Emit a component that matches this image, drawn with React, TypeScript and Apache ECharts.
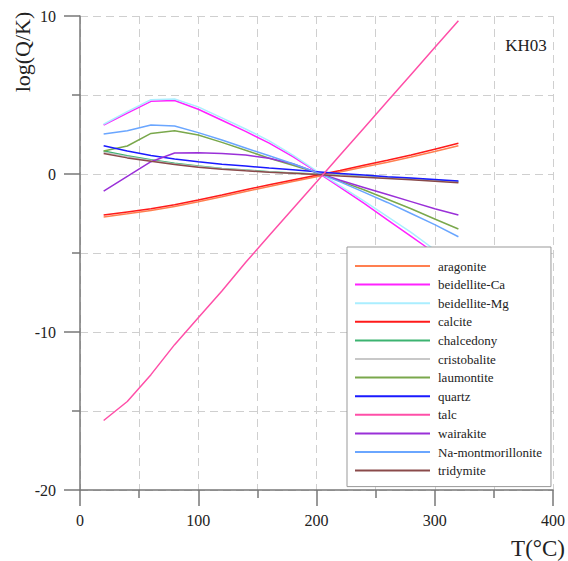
import React, { useEffect, useRef } from "react";
import * as echarts from "echarts";

const temps = [20, 40, 60, 80, 100, 120, 140, 160, 180, 200, 220, 240, 260, 280, 300, 320];

const aragonite = [-2.72, -2.52, -2.31, -2.06, -1.76, -1.44, -1.11, -0.79, -0.48, -0.18, 0.12, 0.44, 0.75, 1.07, 1.42, 1.79];
const beidelliteCa = [3.1, 3.85, 4.6, 4.65, 4.1, 3.4, 2.7, 1.95, 1.1, 0.15, -0.85, -1.85, -2.9, -3.95, -5.0, -6.1];
const beidelliteMg = [3.15, 3.95, 4.7, 4.75, 4.25, 3.55, 2.85, 2.1, 1.2, 0.2, -0.75, -1.7, -2.7, -3.7, -4.8, -5.8];
const calcite = [-2.6, -2.4, -2.2, -1.95, -1.65, -1.33, -1.0, -0.68, -0.38, -0.08, 0.22, 0.55, 0.87, 1.2, 1.57, 1.94];
const chalcedony = [1.45, 1.15, 0.9, 0.68, 0.5, 0.35, 0.25, 0.15, 0.07, 0.0, -0.08, -0.16, -0.24, -0.32, -0.4, -0.48];
const cristobalite = [1.38, 1.09, 0.85, 0.64, 0.47, 0.33, 0.23, 0.13, 0.05, -0.02, -0.1, -0.18, -0.26, -0.34, -0.43, -0.51];
const laumontite = [1.46, 1.77, 2.57, 2.74, 2.47, 2.0, 1.5, 1.0, 0.55, 0.1, -0.45, -1.0, -1.6, -2.2, -2.85, -3.48];
const quartz = [1.79, 1.45, 1.17, 0.95, 0.78, 0.62, 0.5, 0.38, 0.27, 0.15, 0.03, -0.07, -0.17, -0.26, -0.35, -0.44];
const talc = [-15.6, -14.4, -12.7, -10.8, -9.1, -7.4, -5.6, -3.9, -2.2, -0.5, 1.2, 2.9, 4.6, 6.3, 8.0, 9.7];
const wairakite = [-1.08, -0.15, 0.78, 1.33, 1.35, 1.3, 1.2, 1.0, 0.65, 0.1, -0.4, -0.85, -1.3, -1.75, -2.2, -2.6];
const naMontmorillonite = [2.53, 2.74, 3.1, 3.04, 2.62, 2.15, 1.65, 1.15, 0.65, 0.1, -0.5, -1.15, -1.8, -2.5, -3.2, -3.97];
const tridymite = [1.3, 1.02, 0.8, 0.6, 0.43, 0.3, 0.2, 0.11, 0.04, -0.03, -0.12, -0.2, -0.28, -0.37, -0.46, -0.55];

const seriesNames = [
  "aragonite", "beidellite-Ca", "beidellite-Mg", "calcite", "chalcedony", "cristobalite",
  "laumontite", "quartz", "talc", "wairakite", "Na-montmorillonite", "tridymite",
];
const seriesValues = [
  aragonite, beidelliteCa, beidelliteMg, calcite, chalcedony, cristobalite,
  laumontite, quartz, talc, wairakite, naMontmorillonite, tridymite,
];
const seriesColors = [
  "#ff7f50", "#ff22ff", "#aaeeff", "#ff1a1a", "#3cb371", "#c8c8c8",
  "#7aa84c", "#1a1aff", "#ff4fa8", "#9a30d8", "#6aa6ff", "#8a4a4a",
];

const xTicks = [0, 100, 200, 300, 400];
const yTicks = [-20, -10, 0, 10];

const FONT = "Liberation Serif, Times New Roman, serif";

export default function App() {
  const ref = useRef<HTMLDivElement>(null);
  useEffect(() => {
    const chart = echarts.init(ref.current!, null, { renderer: "svg" });
    const dashed = { color: "#cfcfcf", width: 1, type: [8, 5] as number[] };
    chart.setOption({
      animation: false,
      backgroundColor: "#ffffff",
      grid: { left: 80, right: 13, top: 16, bottom: 71 },
      xAxis: {
        type: "value",
        min: xTicks[0],
        max: xTicks[xTicks.length - 1],
        interval: 100,
        axisLine: { onZero: false, lineStyle: { color: "#777", width: 1.5 } },
        axisTick: { show: true, length: 16, lineStyle: { color: "#777", width: 1.5 } },
        minorTick: { show: true, splitNumber: 2, length: 8, lineStyle: { color: "#777", width: 1.5 } },
        splitLine: { show: true, lineStyle: dashed },
        minorSplitLine: { show: true, lineStyle: dashed },
        axisLabel: { margin: 22, fontSize: 16, color: "#222", fontFamily: FONT },
      },
      yAxis: {
        type: "value",
        min: yTicks[0],
        max: yTicks[yTicks.length - 1],
        interval: 10,
        axisLine: { show: true, onZero: false, lineStyle: { color: "#777", width: 1.5 } },
        axisTick: { show: true, length: 16, lineStyle: { color: "#777", width: 1.5 } },
        minorTick: { show: true, splitNumber: 2, length: 8, lineStyle: { color: "#777", width: 1.5 } },
        splitLine: { show: true, lineStyle: dashed },
        minorSplitLine: { show: true, lineStyle: dashed },
        axisLabel: { margin: 24, fontSize: 16, color: "#222", fontFamily: FONT },
      },
      legend: {
        orient: "vertical",
        left: 347,
        top: 247,
        padding: [11, 9, 8, 8],
        backgroundColor: "#ffffff",
        borderColor: "#999",
        borderWidth: 1,
        icon: "rect",
        itemWidth: 75,
        itemHeight: 2,
        itemGap: 2.6,
        data: seriesNames,
        textStyle: { fontSize: 13, lineHeight: 16, color: "#222", fontFamily: FONT, padding: [0, 0, 0, 3] },
      },
      graphic: [
        {
          type: "text",
          x: 22,
          y: 52,
          rotation: Math.PI / 2,
          style: { text: "log(Q/K)", font: `22px ${FONT}`, fill: "#222", align: "center", verticalAlign: "middle" },
        },
        {
          type: "text",
          x: 565,
          y: 548,
          style: { text: "T(°C)", font: `23px ${FONT}`, fill: "#222", align: "right", verticalAlign: "middle" },
        },
        {
          type: "text",
          x: 526,
          y: 45,
          style: { text: "KH03", font: `17px ${FONT}`, fill: "#222", align: "center", verticalAlign: "middle" },
        },
      ],
      series: seriesNames.map((name, i) => ({
        name,
        type: "line",
        showSymbol: false,
        symbol: "none",
        color: seriesColors[i],
        lineStyle: { width: 1.5, color: seriesColors[i] },
        data: temps.map((t, j) => [t, seriesValues[i][j]]),
        z: name === "talc" ? 3 : 2,
      })),
    });
    return () => chart.dispose();
  }, []);
  return (
    <div
      ref={ref}
      style={{ position: "fixed", left: 0, top: 0, width: 568, height: 561 }}
    />
  );
}
